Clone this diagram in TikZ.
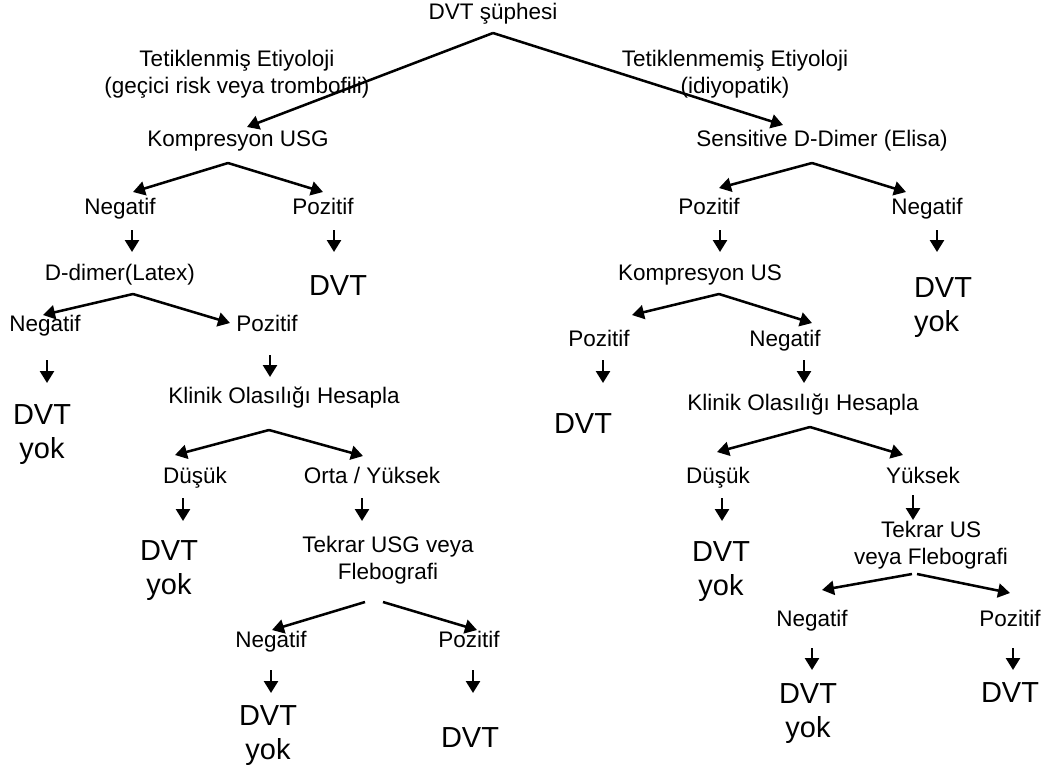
\documentclass[tikz,border=0pt]{standalone}
\usepackage{fontspec}
\setmainfont{Liberation Sans}
\usetikzlibrary{arrows.meta, calc}

\begin{document}
\begin{tikzpicture}[x=0.025cm, y=-0.025cm,
    lbls/.style={font=\fontsize{16}{19}\selectfont, inner sep=0pt, align=center},
    lbl/.style={lbls, text height=11.5pt, text depth=3.4pt},
    big/.style={font=\fontsize{20.6}{24.2}\selectfont, inner sep=0pt, align=center},
    arr/.style={-{Triangle[length=0.3cm, width=0.35cm]}, line width=1.8pt}]
    \useasboundingbox (0,0) rectangle (1044,772);

    % root and the two etiologies
    \node[lbl] (root) at (493,14) {DVT şüphesi};
    \node[lbls] (prov) at (237,74) {Tetiklenmiş Etiyoloji\\(geçici risk veya trombofili)};
    \node[lbls] (idio) at (735,74) {Tetiklenmemiş Etiyoloji\\(idiyopatik)};
    \node[lbl] (kusg) at (238,141) {Kompresyon USG};
    \node[lbl] (sdd) at (822,141) {Sensitive D-Dimer (Elisa)};
    \draw[arr] ($(root)+(0,19)$) -- ($(kusg)+(9,-14)$);
    \draw[arr] ($(root)+(0,19)$) -- ($(sdd)+(-39,-16)$);

    % left branch - provoked
    \node[lbl] (negA) at (120,209) {Negatif};
    \node[lbl] (pozA) at (323,209) {Pozitif};
    \node[lbl] (ddl) at (120,275) {D-dimer(Latex)};
    \node[big] (dvtA) at (338,286) {DVT};
    \node[lbl] (negB) at (45,326) {Negatif};
    \node[lbl] (pozB) at (267,326) {Pozitif};
    \node[big] (yokB) at (42,435) {DVT\\yok};
    \node[lbl] (klinA) at (284,398) {Klinik Olasılığı Hesapla};
    \node[lbl] (dusA) at (195,478) {Düşük};
    \node[lbl] (orta) at (372,478) {Orta / Yüksek};
    \node[big] (yokC) at (169,571) {DVT\\yok};
    \node[lbls] (tekA) at (388,560) {Tekrar USG veya\\Flebografi};
    \node[lbl] (negC) at (271,642) {Negatif};
    \node[lbl] (pozC) at (469,642) {Pozitif};
    \node[big] (yokD) at (268,736) {DVT\\yok};
    \node[big] (dvtD) at (470,738) {DVT};

    \draw[arr] ($(kusg)+(-10,22)$) -- ($(negA)+(13,-17)$);
    \draw[arr] ($(kusg)+(-10,22)$) -- ($(pozA)+(0,-17)$);
    \draw[arr] ($(negA)+(12,21)$) -- ($(ddl)+(12,-23)$);
    \draw[arr] ($(pozA)+(11,21)$) -- ($(dvtA)+(-4,-34)$);
    \draw[arr] ($(ddl)+(13,19)$) -- ($(negB)+(-2,-11)$);
    \draw[arr] ($(ddl)+(13,19)$) -- ($(pozB)+(-37,-3)$);
    \draw[arr] ($(negB)+(2,34)$) -- ($(yokB)+(5,-52)$);
    \draw[arr] ($(pozB)+(3,29)$) -- ($(klinA)+(-14,-21)$);
    \draw[arr] ($(klinA)+(-15,32)$) -- ($(dusA)+(-20,-23)$);
    \draw[arr] ($(klinA)+(-15,32)$) -- ($(orta)+(-9,-22)$);
    \draw[arr] ($(dusA)+(-12,20)$) -- ($(yokC)+(14,-50)$);
    \draw[arr] ($(orta)+(-10,20)$) -- ($(tekA)+(-26,-39)$);
    \draw[arr] ($(tekA)+(-23,42)$) -- ($(negC)+(1,-12)$);
    \draw[arr] ($(tekA)+(-5,42)$) -- ($(pozC)+(8,-12)$);
    \draw[arr] ($(negC)+(0,28)$) -- ($(yokD)+(3,-43)$);
    \draw[arr] ($(pozC)+(4,28)$) -- ($(dvtD)+(3,-45)$);

    % right branch - idiopathic
    \node[lbl] (pozE) at (709,209) {Pozitif};
    \node[lbl] (negE) at (927,209) {Negatif};
    \node[lbl] (kus) at (700,275) {Kompresyon US};
    \node[big, align=left] (yokE) at (943,308) {DVT\\yok};
    \node[lbl] (pozF) at (599,341) {Pozitif};
    \node[lbl] (negF) at (785,341) {Negatif};
    \node[big] (dvtF) at (583,424) {DVT};
    \node[lbl] (klinB) at (803,405) {Klinik Olasılığı Hesapla};
    \node[lbl] (dusB) at (718,478) {Düşük};
    \node[lbl] (yuk) at (923,478) {Yüksek};
    \node[big] (yokG) at (721,572) {DVT\\yok};
    \node[lbls] (tekB) at (931,545) {Tekrar US\\veya Flebografi};
    \node[lbl] (negH) at (812,621) {Negatif};
    \node[lbl] (pozH) at (1010,621) {Pozitif};
    \node[big] (yokH) at (808,714) {DVT\\yok};
    \node[big] (dvtH) at (1010,693) {DVT};

    \draw[arr] ($(sdd)+(-10,22)$) -- ($(pozE)+(10,-21)$);
    \draw[arr] ($(sdd)+(-10,22)$) -- ($(negE)+(-21,-17)$);
    \draw[arr] ($(pozE)+(11,21)$) -- ($(kus)+(20,-23)$);
    \draw[arr] ($(negE)+(10,21)$) -- ($(yokE)+(-6,-56)$);
    \draw[arr] ($(kus)+(19,19)$) -- ($(pozF)+(33,-26)$);
    \draw[arr] ($(kus)+(19,19)$) -- ($(negF)+(27,-18)$);
    \draw[arr] ($(pozF)+(4,19)$) -- ($(dvtF)+(20,-41)$);
    \draw[arr] ($(negF)+(19,19)$) -- ($(klinB)+(1,-22)$);
    \draw[arr] ($(klinB)+(7,22)$) -- ($(dusB)+(-1,-26)$);
    \draw[arr] ($(klinB)+(7,22)$) -- ($(yuk)+(-20,-23)$);
    \draw[arr] ($(dusB)+(4,20)$) -- ($(yokG)+(1,-51)$);
    \draw[arr] ($(yuk)+(-10,17)$) -- ($(tekB)+(-18,-25)$);
    \draw[arr] ($(tekB)+(-19,29)$) -- ($(negH)+(10,-31)$);
    \draw[arr] ($(tekB)+(-14,29)$) -- ($(pozH)+(0,-28)$);
    \draw[arr] ($(negH)+(0,27)$) -- ($(yokH)+(4,-44)$);
    \draw[arr] ($(pozH)+(3,27)$) -- ($(dvtH)+(3,-23)$);
\end{tikzpicture}
\end{document}
